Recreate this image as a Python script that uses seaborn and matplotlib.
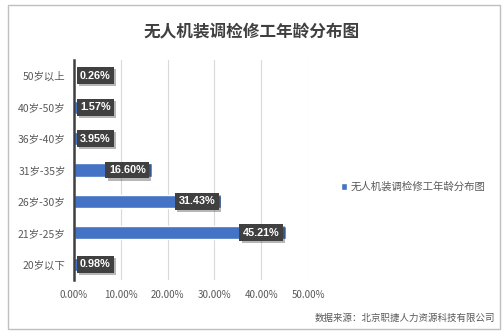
import matplotlib
matplotlib.use("Agg")
import matplotlib.pyplot as plt
import matplotlib.patheffects as pe
from matplotlib.patches import Rectangle
from matplotlib.ticker import FixedLocator, FuncFormatter
import seaborn as sns
import pandas as pd

# Age groups and their share of workers (%)
age_groups = ["50岁以上", "40岁-50岁", "36岁-40岁", "31岁-35岁", "26岁-30岁", "21岁-25岁", "20岁以下"]
shares = [0.26, 1.57, 3.95, 16.60, 31.43, 45.21, 0.98]
series_name = "无人机装调检修工年龄分布图"
title = "无人机装调检修工年龄分布图"
source_note = "数据来源：北京职捷人力资源科技有限公司"
x_ticks = [0, 10, 20, 30, 40, 50]

df = pd.DataFrame({"age": age_groups, "share": shares})

sns.set_theme(style="white")
plt.rcParams["font.family"] = ["Noto Sans CJK SC", "DejaVu Sans"]

W, H = 504, 336
fig = plt.figure(figsize=(W / 100, H / 100), dpi=100)
fig.patch.set_facecolor("white")

# outer chart frame
fig.add_artist(Rectangle((8 / W, 1 - 329 / H), 492 / W, 324 / H, transform=fig.transFigure,
                         fill=False, edgecolor="#BFBFBF", linewidth=1.0))

ax = fig.add_axes([74 / W, 1 - 280 / H, 234 / W, 220 / H])
bar_color = "#4472C4"
sns.barplot(data=df, x="share", y="age", orient="h", color=bar_color, width=0.42,
            saturation=1, ax=ax, label=series_name, legend=False)

ax.set_xlim(0, 50)
ax.set_ylim(len(age_groups) - 0.5, -0.5)
ax.set_xlabel("")
ax.set_ylabel("")
ax.xaxis.set_major_locator(FixedLocator(x_ticks))
ax.xaxis.set_major_formatter(FuncFormatter(lambda v, p: f"{v:.2f}%"))
ax.grid(axis="x", color="#D9D9D9", linewidth=0.8)
ax.set_axisbelow(True)
for s in ["top", "right", "bottom"]:
    ax.spines[s].set_visible(False)
ax.spines["left"].set_color("#404040")
ax.spines["left"].set_linewidth(1.8)
ax.tick_params(axis="x", length=0, labelsize=7, labelcolor="#595959", pad=7)
ax.tick_params(axis="y", which="major", length=0, labelsize=7.5, labelcolor="#595959", pad=6)
ax.yaxis.set_minor_locator(FixedLocator([i - 0.5 for i in range(len(age_groups) + 1)]))
ax.tick_params(axis="y", which="minor", length=4, width=1.5, color="#404040", direction="out")

# value labels in dark boxes at the bar ends
px_per_unit = 234 / 50
for i, v in enumerate(shares):
    label = f"{v:.2f}%"
    if v * px_per_unit < 48:
        t = ax.annotate(label, (0, i), xytext=(6, 0), textcoords="offset pixels",
                        ha="left", va="center", color="white", fontsize=7.8, fontweight="bold",
                        family=["Liberation Sans"])
    else:
        t = ax.annotate(label, (v, i), xytext=(-6, 0), textcoords="offset pixels",
                        ha="right", va="center", color="white", fontsize=7.8, fontweight="bold",
                        family=["Liberation Sans"])
    t.set_bbox(dict(boxstyle="square,pad=0.32", facecolor="#404040", edgecolor="none"))
    t.get_bbox_patch().set_path_effects([pe.SimplePatchShadow(offset=(1.5, -1.5), alpha=0.3),
                                         pe.Normal()])

fig.text(252 / W, 1 - 32 / H, title, ha="center", va="center", fontsize=12,
         fontweight="bold", color="#404040")

handle = Rectangle((0, 0), 1, 1, facecolor=bar_color)
fig.legend([handle], [series_name], loc="center left", bbox_to_anchor=(336 / W, 1 - 187 / H),
           frameon=False, fontsize=7.5, labelcolor="#595959", handlelength=0.6,
           handleheight=0.6, handletextpad=0.3, borderpad=0)

fig.text(495 / W, 1 - 318 / H, source_note, ha="right", va="center", fontsize=6.8,
         color="#595959")

fig.savefig("out.png", dpi=100)
